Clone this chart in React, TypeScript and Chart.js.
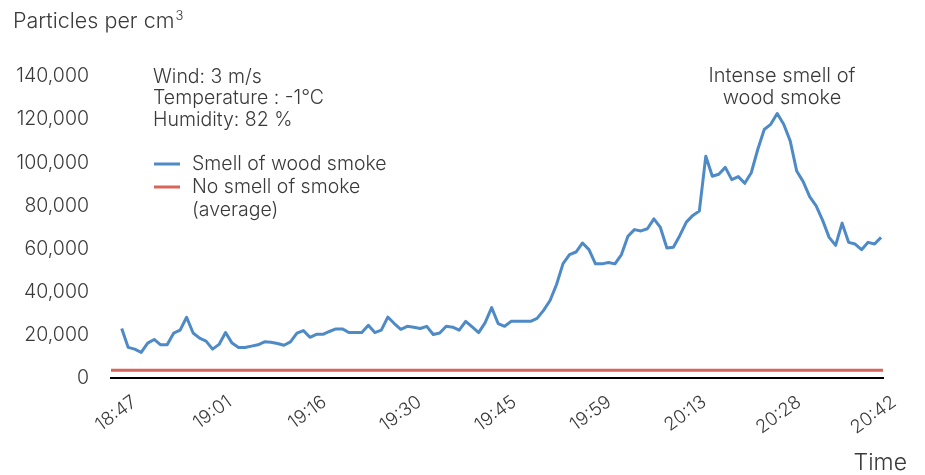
import React, { useEffect, useRef } from 'react';
import { Chart, registerables } from 'chart.js';

Chart.register(...registerables);

// ---- data ----
const tickLabels = ['18:47', '19:01', '19:16', '19:30', '19:45', '19:59', '20:13', '20:28', '20:42'];

const smokeValues = [
  23000, 14200, 13400, 11900, 16200, 17900, 15400, 15400, 20800, 22200,
  28200, 20900, 18500, 17100, 13400, 15600, 21100, 16200, 14200, 14200,
  14800, 15400, 16800, 16600, 16000, 15200, 16800, 20800, 22000, 18900,
  20300, 20300, 21600, 22800, 22800, 21100, 21100, 21100, 24500, 21100,
  22200, 28300, 25300, 22600, 24000, 23600, 23000, 24000, 20200, 20900,
  24000, 23600, 22200, 26300, 23700, 21100, 25700, 32700, 25300, 24000,
  26300, 26300, 26300, 26300, 27700, 31400, 36000, 43400, 53100, 57300,
  58500, 62700, 59600, 53000, 53000, 53600, 53000, 57300, 65800, 68900,
  68300, 69300, 73900, 69900, 60400, 60700, 66200, 72400, 75500, 77500,
  103000, 93700, 94600, 97800, 92100, 93500, 90400, 95300, 106100, 115400,
  117800, 122800, 117800, 110100, 96100, 91200, 84200, 79900, 73200, 65300,
  61600, 71900, 63000, 62200, 59600, 63000, 62200, 65300,
];

const noSmokeAverage = [3600, 3600];

const seriesNames = ['Smell of wood smoke', 'No smell of smoke', '(average)'];
const infoLines = ['Wind: 3 m/s', 'Temperature : -1°C', 'Humidity: 82 %'];
const peakNote = ['Intense smell of', 'wood smoke'];
const yTitle = 'Particles per cm';
const yTitleSup = '3';
const xTitle = 'Time';

const BLUE = '#4d8ac6';
const RED = '#d8655c';
const TEXT = '#3a3a3a';
const FONT = "Inter, 'Open Sans', sans-serif";
const W = 300;

const X_MIN = -1.65;
const X_MAX = smokeValues.length - 1 + 0.3;
const LAST = smokeValues.length - 1;

const textPlugin = {
  id: 'texts',
  afterDraw(chart: any) {
    const ctx = chart.ctx as CanvasRenderingContext2D;
    ctx.save();
    ctx.fillStyle = TEXT;

    // y title with superscript
    ctx.font = `${W} 21.5px ${FONT}`;
    ctx.textAlign = 'left';
    ctx.textBaseline = 'alphabetic';
    ctx.fillText(yTitle, 13, 28);
    const w = ctx.measureText(yTitle).width;
    ctx.font = `${W} 13px ${FONT}`;
    ctx.fillText(yTitleSup, 13 + w + 1, 20);

    // x title
    ctx.font = `${W} 23px ${FONT}`;
    ctx.textAlign = 'right';
    ctx.fillText(xTitle, 907, 470);

    // info lines
    ctx.textBaseline = 'middle';
    ctx.textAlign = 'left';
    ctx.font = `${W} 19.5px ${FONT}`;
    infoLines.forEach((t, i) => ctx.fillText(t, 153, 77 + i * 21.5));

    // legend
    const legendRows = [
      { color: BLUE, y: 164 },
      { color: RED, y: 187 },
    ];
    legendRows.forEach((r) => {
      ctx.strokeStyle = r.color;
      ctx.lineWidth = 3;
      ctx.beginPath();
      ctx.moveTo(154, r.y);
      ctx.lineTo(180, r.y);
      ctx.stroke();
    });
    ctx.fillStyle = TEXT;
    ctx.fillText(seriesNames[0], 192, 164);
    ctx.fillText(seriesNames[1], 192, 187);
    ctx.fillText(seriesNames[2], 192, 210);

    // peak annotation
    ctx.textAlign = 'center';
    ctx.font = `${W} 20px ${FONT}`;
    peakNote.forEach((t, i) => ctx.fillText(t, 782, 76 + i * 22));

    ctx.restore();
  },
};

export default function App() {
  const ref = useRef<HTMLCanvasElement>(null);

  useEffect(() => {
    document.body.style.margin = '0';
    const canvas = ref.current;
    if (!canvas) return;
    const chart = new Chart(canvas, {
      type: 'line',
      data: {
        datasets: [
          {
            label: seriesNames[0],
            data: smokeValues.map((v, i) => ({ x: i, y: v })),
            borderColor: BLUE,
            backgroundColor: BLUE,
            borderWidth: 3,
            pointRadius: 0,
            tension: 0,
            borderJoinStyle: 'round',
          },
          {
            label: seriesNames[1],
            data: [
              { x: X_MIN, y: noSmokeAverage[0] },
              { x: X_MAX, y: noSmokeAverage[1] },
            ],
            borderColor: RED,
            backgroundColor: RED,
            borderWidth: 3,
            pointRadius: 0,
          },
        ],
      },
      options: {
        animation: false,
        responsive: false,
        layout: { padding: { top: 76.5, right: 42, left: 0, bottom: 0 } },
        plugins: {
          legend: { display: false },
          tooltip: { enabled: false },
        },
        scales: {
          x: {
            type: 'linear',
            min: X_MIN,
            max: X_MAX,
            grid: { display: false, drawTicks: false },
            border: { display: true, color: '#000', width: 2 },
            afterBuildTicks: (scale: any) => {
              scale.ticks = tickLabels.map((_, k) => ({ value: (LAST * k) / (tickLabels.length - 1) }));
            },
            afterFit: (scale: any) => {
              scale.height = 97;
            },
            ticks: {
              autoSkip: false,
              minRotation: 36,
              maxRotation: 36,
              padding: 13,
              labelOffset: 13,
              color: TEXT,
              font: { family: FONT, size: 18.5, weight: W },
              callback: (_v: any, index: number) => tickLabels[index],
            },
          },
          y: {
            min: 0,
            max: 140000,
            grid: { display: false, drawTicks: false },
            border: { display: false },
            afterFit: (scale: any) => {
              scale.width = 111;
            },
            ticks: {
              stepSize: 20000,
              padding: 22,
              color: TEXT,
              font: { family: FONT, size: 19.5, weight: W },
            },
          },
        },
      },
      plugins: [textPlugin],
    });
    return () => chart.destroy();
  }, []);

  return (
    <div style={{ position: 'absolute', left: 0, top: 0, width: 925, height: 475, background: '#fff' }}>
      <canvas ref={ref} width={925} height={475} style={{ width: 925, height: 475, display: 'block' }} />
    </div>
  );
}
